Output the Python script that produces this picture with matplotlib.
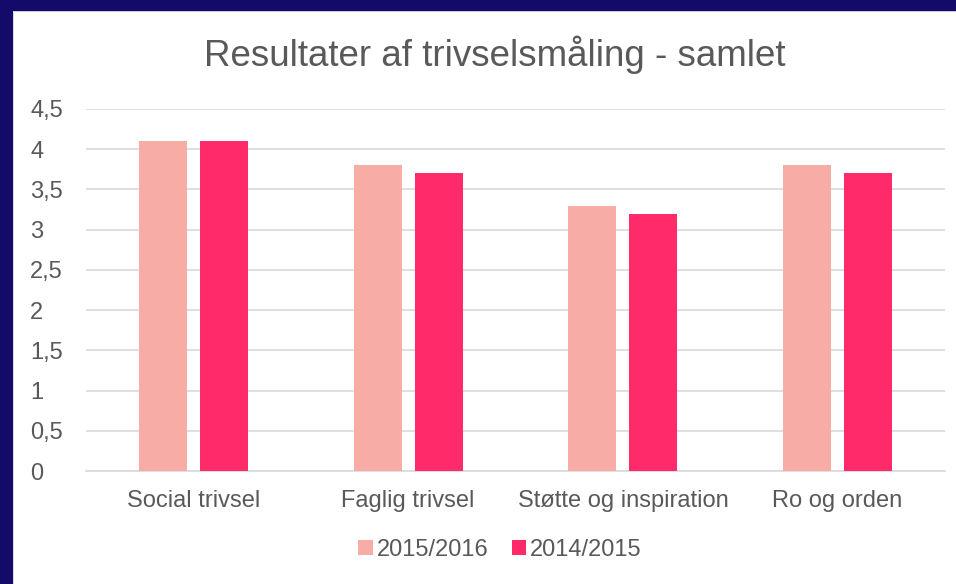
import matplotlib
matplotlib.use("Agg")
import matplotlib.pyplot as plt
from matplotlib.patches import Rectangle
import numpy as np

categories = ["Social trivsel", "Faglig trivsel", "Støtte og inspiration", "Ro og orden"]
series_names = ["2015/2016", "2014/2015"]
values_2015_2016 = [4.1, 3.8, 3.3, 3.8]
values_2014_2015 = [4.1, 3.7, 3.2, 3.7]
yticks = [0, 0.5, 1, 1.5, 2, 2.5, 3, 3.5, 4, 4.5]
ytick_labels = ["0", "0,5", "1", "1,5", "2", "2,5", "3", "3,5", "4", "4,5"]

colors = ["#F8ACA6", "#FF2A6A"]
text_color = "#595959"
plt.rcParams['font.family'] = ['Liberation Sans', 'DejaVu Sans']

W, H = 956, 584
fig = plt.figure(figsize=(W / 100, H / 100), dpi=100)
fig.patch.set_facecolor("white")

navy = "#130A6A"
fig.patches.append(Rectangle((0, 1 - 11 / H), 1, 11 / H, transform=fig.transFigure,
                             facecolor=navy, edgecolor="none", zorder=-1))
fig.patches.append(Rectangle((0, 0), 13 / W, 1, transform=fig.transFigure,
                             facecolor=navy, edgecolor="none", zorder=-1))
fig.patches.append(Rectangle((13 / W, 1 - 12 / H), 1, 1 / H, transform=fig.transFigure,
                             facecolor="#C8C8D8", edgecolor="none", zorder=-1))
fig.patches.append(Rectangle((13 / W, 0), 1 / W, 1 - 11 / H, transform=fig.transFigure,
                             facecolor="#D8D8E0", edgecolor="none", zorder=-1))

left, right = 86 / W, 945 / W
bottom, top = 1 - 471 / H, 1 - 109 / H
ax = fig.add_axes([left, bottom, right - left, top - bottom])

x = np.arange(len(categories))
w = 0.223
off = 0.142
ax.bar(x - off, values_2015_2016, width=w, color=colors[0], label=series_names[0], zorder=3)
ax.bar(x + off, values_2014_2015, width=w, color=colors[1], label=series_names[1], zorder=3)

ax.set_xlim(-0.5, len(categories) - 0.5)
ax.set_ylim(0, 4.5)
ax.set_yticks(yticks)
ax.set_yticklabels(ytick_labels)
ax.set_xticks(x)
ax.set_xticklabels(categories)
ax.yaxis.grid(True, color="#D9D9D9", linewidth=1.2, zorder=0)
ax.set_axisbelow(True)
for s in ["top", "right", "left"]:
    ax.spines[s].set_visible(False)
ax.spines["bottom"].set_color("#D9D9D9")
ax.spines["bottom"].set_linewidth(1.2)
ax.tick_params(axis="both", length=0, labelsize=17, colors=text_color)
ax.tick_params(axis="y", pad=40.3)
ax.tick_params(axis="x", pad=14)
for lbl in ax.get_yticklabels():
    lbl.set_horizontalalignment("left")

fig.text(0.518, 1 - 55 / H, "Resultater af trivselsmåling - samlet", ha="center", va="center",
         fontsize=26.5, color=text_color)

leg = fig.legend(loc="center", bbox_to_anchor=(0.523, 1 - 550 / H), ncol=2, frameon=False,
                 fontsize=17, handlelength=0.62, handleheight=0.62, handletextpad=0.15,
                 columnspacing=1.0)
for t in leg.get_texts():
    t.set_color(text_color)

fig.savefig("out.png", dpi=100, facecolor=fig.get_facecolor())
